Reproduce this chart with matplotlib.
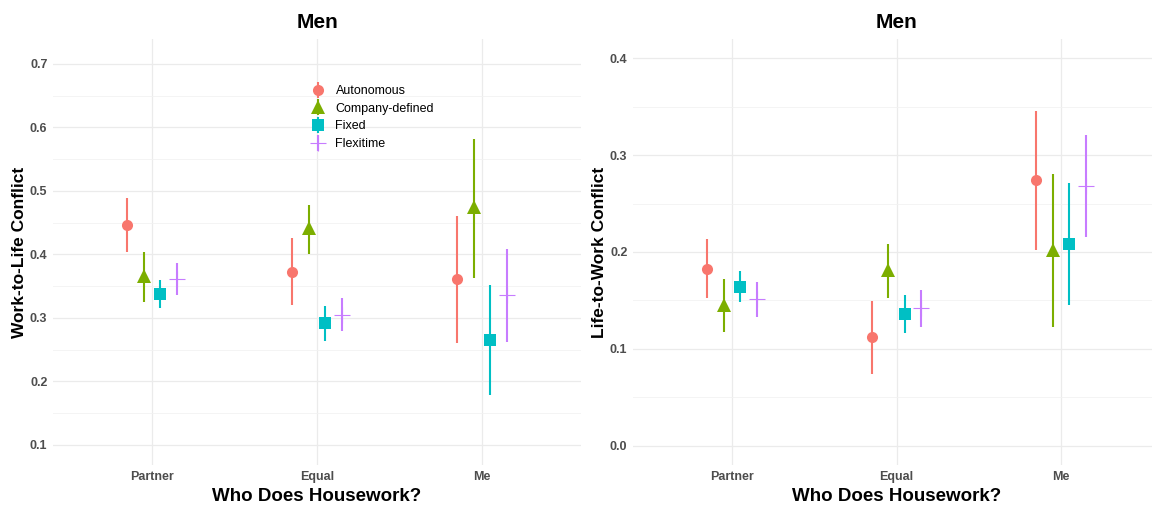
import matplotlib
matplotlib.use("Agg")
import matplotlib.pyplot as plt
from matplotlib.lines import Line2D
from matplotlib.legend_handler import HandlerTuple
from matplotlib.ticker import MultipleLocator, FormatStrFormatter

plt.rcParams["font.family"] = ["Liberation Sans", "DejaVu Sans"]

# Categories and schedule types
housework = ["Partner", "Equal", "Me"]
schedules = ["Autonomous", "Company-defined", "Fixed", "Flexitime"]

# Work-to-life conflict: estimates and interval bounds (rows = schedules)
wlc_est = [[0.446, 0.373, 0.361],
           [0.366, 0.441, 0.474],
           [0.337, 0.292, 0.265],
           [0.362, 0.305, 0.336]]
wlc_low = [[0.404, 0.320, 0.261],
           [0.325, 0.401, 0.363],
           [0.315, 0.264, 0.178],
           [0.336, 0.279, 0.262]]
wlc_high = [[0.488, 0.425, 0.460],
            [0.403, 0.478, 0.582],
            [0.359, 0.319, 0.352],
            [0.386, 0.331, 0.409]]

# Life-to-work conflict: estimates and interval bounds (rows = schedules)
lwc_est = [[0.182, 0.112, 0.274],
           [0.145, 0.181, 0.202],
           [0.164, 0.136, 0.208],
           [0.151, 0.142, 0.268]]
lwc_low = [[0.152, 0.074, 0.202],
           [0.117, 0.152, 0.123],
           [0.148, 0.116, 0.145],
           [0.133, 0.123, 0.215]]
lwc_high = [[0.213, 0.149, 0.346],
            [0.172, 0.208, 0.281],
            [0.180, 0.156, 0.271],
            [0.169, 0.161, 0.321]]

colors = ["#F8766D", "#7CAE00", "#00BFC4", "#C77CFF"]
markers = ["o", "^", "s", "+"]
msizes = [8, 10.5, 8, 12]
mews = [0, 0, 0, 0.8]
offsets = [-0.15, -0.05, 0.05, 0.15]

W, H = 1152, 507
fig = plt.figure(figsize=(W / 100, H / 100), dpi=100)
fig.patch.set_facecolor("white")

ax1 = fig.add_axes([53 / W, 42 / H, 528 / W, 426 / H])
ax2 = fig.add_axes([633 / W, 42 / H, 527 / W, 426 / H])

tick_color = "#4D4D4D"


def draw_panel(ax, est, low, high, ylim, major, minor, ylabel):
    xs = list(range(1, len(housework) + 1))
    for i, name in enumerate(schedules):
        px = [x + offsets[i] for x in xs]
        ax.vlines(px, low[i], high[i], color=colors[i], lw=1.5, zorder=3)
        ax.plot(px, est[i], ls="none", marker=markers[i], ms=msizes[i],
                mew=mews[i], color=colors[i], zorder=4)
    ax.set_xlim(0.4, 3.6)
    ax.set_ylim(*ylim)
    ax.set_xticks(xs)
    ax.set_xticklabels(housework)
    ax.yaxis.set_major_locator(MultipleLocator(major))
    ax.yaxis.set_minor_locator(MultipleLocator(minor))
    ax.yaxis.set_major_formatter(FormatStrFormatter("%.1f"))
    ax.grid(which="major", color="#EBEBEB", lw=0.9)
    ax.grid(which="minor", axis="y", color="#F2F2F2", lw=0.6)
    ax.set_axisbelow(True)
    for s in ax.spines.values():
        s.set_visible(False)
    ax.tick_params(which="both", length=0, pad=4, colors=tick_color,
                   labelsize=9)
    for lab in ax.get_xticklabels() + ax.get_yticklabels():
        lab.set_fontweight("bold")
    ax.set_title("Men", fontsize=15, fontweight="bold", pad=8)
    ax.set_xlabel("Who Does Housework?", fontsize=13.5, fontweight="bold",
                  labelpad=4)
    ax.set_ylabel(ylabel, fontsize=12.5, fontweight="bold", labelpad=2)


draw_panel(ax1, wlc_est, wlc_low, wlc_high, (0.0685, 0.739), 0.1, 0.05,
           "Work-to-Life Conflict")
draw_panel(ax2, lwc_est, lwc_low, lwc_high, (-0.02, 0.42), 0.1, 0.05,
           "Life-to-Work Conflict")

handles = []
for i in range(len(schedules)):
    bar = Line2D([], [], ls="none", marker="|", ms=11, mew=1.5,
                 color=colors[i])
    pt = Line2D([], [], ls="none", marker=markers[i], ms=msizes[i],
                mew=mews[i], color=colors[i])
    handles.append((bar, pt))

ax1.legend(handles, schedules, handler_map={tuple: HandlerTuple(ndivide=1)},
           loc="upper left", bbox_to_anchor=((308 - 53) / 528, (468 - 88) / 426),
           frameon=False, fontsize=9, handlelength=1.6, handletextpad=0.6,
           labelspacing=0.45, borderpad=0, borderaxespad=0)

fig.savefig("out.png", dpi=100, facecolor="white")
